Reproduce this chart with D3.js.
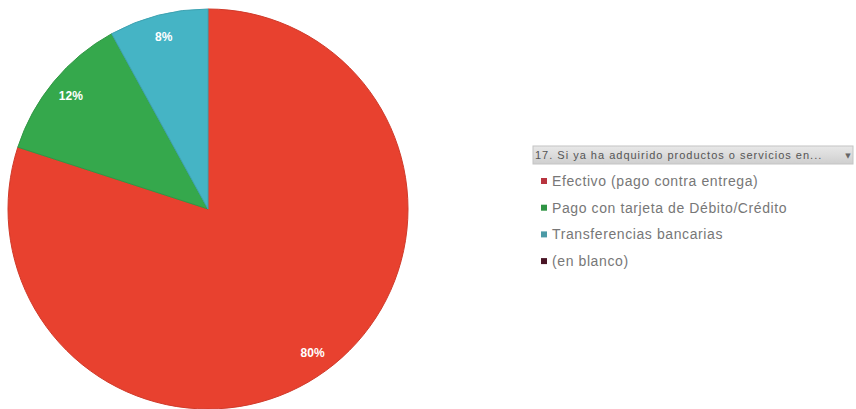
<!DOCTYPE html>
<html>
<head>
<meta charset="utf-8">
<script src="https://cdn.jsdelivr.net/npm/d3@7"></script>
<style>
  html, body { margin: 0; padding: 0; background: #fff; }
  svg { display: block; }
</style>
</head>
<body>
<svg id="chart" width="856" height="409"></svg>
<script>
// Survey answers and their shares (percent)
const categories = [
  "Efectivo (pago contra entrega)",
  "Pago con tarjeta de Débito/Crédito",
  "Transferencias bancarias",
  "(en blanco)"
];
const values = [80, 12, 8, 0];
const sliceColors = ["#e8412f", "#35a84c", "#45b4c5", "#5a1c2c"];
const legendColors = ["#b8343f", "#2f9444", "#4b9aa6", "#4a1526"];
const fieldTitle = "17. Si ya ha adquirido productos o servicios en...";

const svg = d3.select("#chart");
const cx = 208, cy = 209, radius = 200;

const pie = d3.pie().sort(null).value(d => d.value);
const data = categories.map((c, i) => ({ name: c, value: values[i], color: sliceColors[i] }));
const arcs = pie(data).filter(a => a.data.value > 0);

const arc = d3.arc().innerRadius(0).outerRadius(radius);
const labelArc = d3.arc().innerRadius(radius * 0.89).outerRadius(radius * 0.89);

const g = svg.append("g").attr("transform", `translate(${cx},${cy})`);

g.selectAll("path.slice")
  .data(arcs)
  .join("path")
  .attr("class", "slice")
  .attr("d", arc)
  .attr("fill", d => d.data.color)
  .attr("stroke", d => d3.color(d.data.color).darker(0.3))
  .attr("stroke-width", 1);

g.selectAll("text.pct")
  .data(arcs)
  .join("text")
  .attr("class", "pct")
  .attr("transform", d => `translate(${labelArc.centroid(d)})`)
  .attr("text-anchor", "middle")
  .attr("dy", "0.35em")
  .attr("fill", "#fff")
  .attr("font-family", "Liberation Sans, Arial, sans-serif")
  .attr("font-weight", "bold")
  .attr("font-size", 12)
  .text(d => d3.format(".0%")(d.data.value / 100));

// Field header with drop-down marker
const lx = 533, ly = 146;
const defs = svg.append("defs");
const grad = defs.append("linearGradient").attr("id", "hdr").attr("x1", 0).attr("y1", 0).attr("x2", 0).attr("y2", 1);
grad.append("stop").attr("offset", "0%").attr("stop-color", "#e8e8e8");
grad.append("stop").attr("offset", "100%").attr("stop-color", "#cfcfcf");

svg.append("rect")
  .attr("x", lx).attr("y", ly)
  .attr("width", 320).attr("height", 18)
  .attr("fill", "url(#hdr)")
  .attr("stroke", "#c4c4c4");

svg.append("text")
  .attr("x", lx + 2).attr("y", ly + 13)
  .attr("fill", "#555")
  .attr("font-family", "Liberation Sans, Arial, sans-serif")
  .attr("font-size", 11)
  .attr("letter-spacing", 1)
  .text(fieldTitle);

svg.append("text")
  .attr("x", lx + 315).attr("y", ly + 12)
  .attr("text-anchor", "middle")
  .attr("fill", "#666")
  .attr("font-family", "DejaVu Sans, sans-serif")
  .attr("font-size", 7)
  .text("▼");

// Legend entries
const item = svg.selectAll("g.item")
  .data(data)
  .join("g")
  .attr("class", "item")
  .attr("transform", (d, i) => `translate(${lx + 8},${181 + i * 26.7})`);

item.append("rect")
  .attr("x", 0).attr("y", -3)
  .attr("width", 6).attr("height", 6)
  .attr("fill", (d, i) => legendColors[i]);

item.append("text")
  .attr("x", 11).attr("y", 5)
  .attr("fill", "#777")
  .attr("font-family", "Liberation Sans, Arial, sans-serif")
  .attr("font-size", 14)
  .attr("letter-spacing", 0.6)
  .text(d => d.name);
</script>
</body>
</html>
